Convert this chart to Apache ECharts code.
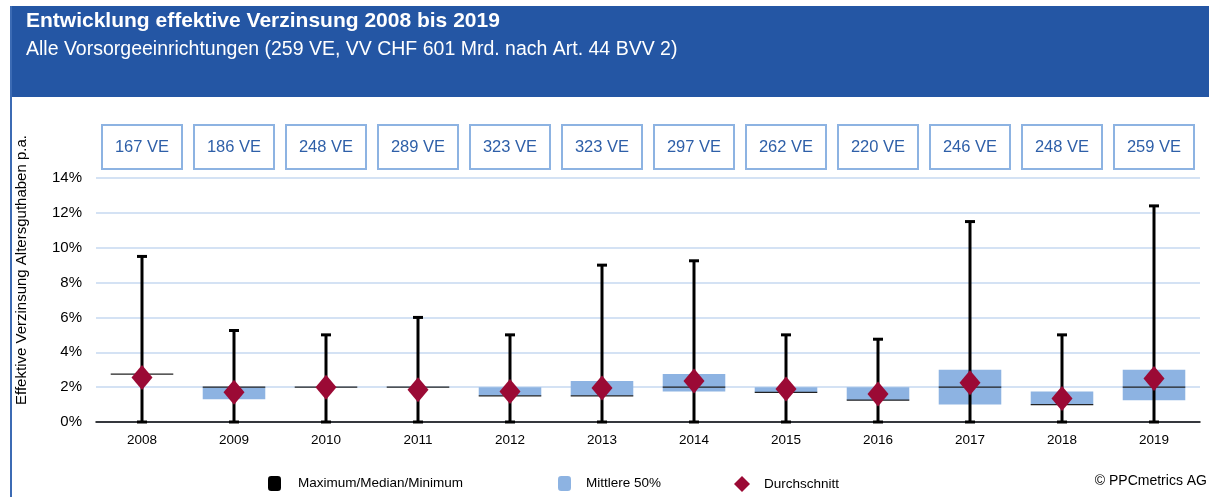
<!DOCTYPE html>
<html>
<head>
<meta charset="utf-8">
<script src="https://cdn.jsdelivr.net/npm/echarts@6/dist/echarts.min.js"></script>
<style>
  html, body { margin: 0; padding: 0; background: #fff; }
  #main { width: 1209px; height: 497px; }
</style>
</head>
<body>
<div id="main"></div>
<script>
// Daten (in %)
var jahre = ['2008', '2009', '2010', '2011', '2012', '2013', '2014', '2015', '2016', '2017', '2018', '2019'];
var anzahlVE = [167, 186, 248, 289, 323, 323, 297, 262, 220, 246, 248, 259];
var maximum = [9.5, 5.25, 5.0, 6.0, 5.0, 9.0, 9.25, 5.0, 4.75, 11.5, 5.0, 12.4];
var minimum = [0, 0, 0, 0, 0, 0, 0, 0, 0, 0, 0, 0];
var median = [2.75, 2.0, 2.0, 2.0, 1.5, 1.5, 2.0, 1.7, 1.25, 2.0, 1.0, 2.0];
var quartilUnten = [2.75, 1.3, 2.0, 2.0, 1.5, 1.5, 1.75, 1.7, 1.25, 1.0, 1.0, 1.25];
var quartilOben = [2.75, 2.0, 2.0, 2.0, 2.0, 2.35, 2.75, 2.0, 2.0, 3.0, 1.75, 3.0];
var durchschnitt = [2.55, 1.7, 2.0, 1.85, 1.75, 1.95, 2.35, 1.9, 1.6, 2.25, 1.35, 2.5];

var schrift = 'Liberation Sans, Arial, sans-serif';
var myChart = echarts.init(document.getElementById('main'));

var boxDaten = jahre.map(function (j, i) { return [i, quartilUnten[i], quartilOben[i]]; });
var whiskerDaten = jahre.map(function (j, i) { return [i, minimum[i], maximum[i], median[i]]; });
var mittelDaten = jahre.map(function (j, i) { return [i, durchschnitt[i]]; });

var option = {
  animation: false,
  backgroundColor: '#fff',
  textStyle: { fontFamily: schrift },
  title: {
    text: 'Entwicklung effektive Verzinsung 2008 bis 2019',
    subtext: 'Alle Vorsorgeeinrichtungen (259 VE, VV CHF 601 Mrd. nach Art. 44 BVV 2)',
    left: 26,
    top: 11,
    padding: 0,
    itemGap: 8,
    textStyle: { color: '#fff', fontSize: 21, fontWeight: 'bold', fontFamily: schrift },
    subtextStyle: { color: '#fff', fontSize: 19.5, fontFamily: schrift }
  },
  graphic: [
    { type: 'rect', z: -10, shape: { x: 10, y: 6, width: 1199, height: 91 }, style: { fill: '#2456A4' } },
    { type: 'rect', z: -10, shape: { x: 10, y: 6, width: 2, height: 491 }, style: { fill: '#3C6BB4' } },
    { type: 'text', x: 22, y: 270, rotation: Math.PI / 2,
      style: { text: 'Effektive Verzinsung Altersguthaben p.a.', fill: '#000', fontSize: 15, fontFamily: schrift, align: 'center', verticalAlign: 'middle' } },
    { type: 'text', right: 2, top: 474, style: { text: '© PPCmetrics AG', fill: '#000', fontSize: 14, fontFamily: schrift } }
  ],
  legend: [
    { left: 263, top: 471, itemWidth: 13, itemHeight: 15, textStyle: { fontSize: 13.5, color: '#000', padding: [0, 0, 0, 12] },
      data: [{ name: 'Maximum/Median/Minimum', icon: 'roundRect', itemStyle: { color: '#000' } }] },
    { left: 553, top: 471, itemWidth: 13, itemHeight: 15, textStyle: { fontSize: 13.5, color: '#000', padding: [0, 0, 0, 10] },
      data: [{ name: 'Mittlere 50%', icon: 'roundRect', itemStyle: { color: '#8DB3E2' } }] },
    { left: 729, top: 471, itemWidth: 16, itemHeight: 16, textStyle: { fontSize: 13.5, color: '#000', padding: [0, 0, 0, 9] },
      data: [{ name: 'Durchschnitt', icon: 'diamond', itemStyle: { color: '#9B0A35' } }] }
  ],
  grid: { left: 96, right: 9, top: 178, bottom: 75 },
  xAxis: [
    {
      type: 'category',
      data: jahre,
      axisLine: { lineStyle: { color: '#000', width: 1.5 } },
      axisTick: { length: 5, lineStyle: { color: '#000' } },
      axisLabel: { color: '#000', fontSize: 13.5, margin: 11 }
    },
    {
      type: 'category',
      position: 'top',
      data: anzahlVE.map(function (n) { return n + ' VE'; }),
      axisLine: { show: false },
      axisTick: { show: false },
      axisLabel: {
        margin: 9,
        color: '#2E5FA8',
        fontSize: 16.5,
        width: 80,
        height: 44,
        lineHeight: 44,
        align: 'center',
        borderColor: '#8DB3E2',
        borderWidth: 2
      }
    }
  ],
  yAxis: {
    type: 'value',
    min: 0,
    max: 14,
    interval: 2,
    axisLine: { show: false },
    axisTick: { show: false },
    axisLabel: { color: '#000', fontSize: 15, margin: 14, formatter: '{value}%' },
    splitLine: { lineStyle: { color: '#C6D8F0', width: 1.5 } }
  },
  series: [
    {
      name: 'Mittlere 50%',
      type: 'custom',
      data: boxDaten,
      itemStyle: { color: '#8DB3E2' },
      renderItem: function (params, api) {
        var x = api.value(0);
        var p1 = api.coord([x, api.value(2)]);
        var p0 = api.coord([x, api.value(1)]);
        var w = api.size([1, 0])[0] * 0.68;
        return {
          type: 'rect',
          shape: { x: p1[0] - w / 2, y: p1[1], width: w, height: p0[1] - p1[1] },
          style: { fill: '#8DB3E2' }
        };
      }
    },
    {
      name: 'Maximum/Median/Minimum',
      type: 'custom',
      data: whiskerDaten,
      itemStyle: { color: '#000' },
      z: 3,
      renderItem: function (params, api) {
        var x = api.value(0);
        var pMin = api.coord([x, api.value(1)]);
        var pMax = api.coord([x, api.value(2)]);
        var pMed = api.coord([x, api.value(3)]);
        var w = api.size([1, 0])[0] * 0.68;
        return {
          type: 'group',
          children: [
            { type: 'line', shape: { x1: pMin[0], y1: pMin[1], x2: pMax[0], y2: pMax[1] }, style: { stroke: '#000', lineWidth: 3 } },
            { type: 'line', shape: { x1: pMax[0] - 5, y1: pMax[1], x2: pMax[0] + 5, y2: pMax[1] }, style: { stroke: '#000', lineWidth: 3 } },
            { type: 'line', shape: { x1: pMin[0] - 5, y1: pMin[1], x2: pMin[0] + 5, y2: pMin[1] }, style: { stroke: '#000', lineWidth: 3 } },
            { type: 'line', shape: { x1: pMed[0] - w / 2, y1: pMed[1], x2: pMed[0] + w / 2, y2: pMed[1] }, style: { stroke: '#222', lineWidth: 1.2 } }
          ]
        };
      }
    },
    {
      name: 'Durchschnitt',
      type: 'scatter',
      data: mittelDaten,
      symbol: 'diamond',
      symbolSize: [21, 25],
      itemStyle: { color: '#9B0A35', opacity: 1 },
      z: 5
    }
  ]
};

myChart.setOption(option);
</script>
</body>
</html>
